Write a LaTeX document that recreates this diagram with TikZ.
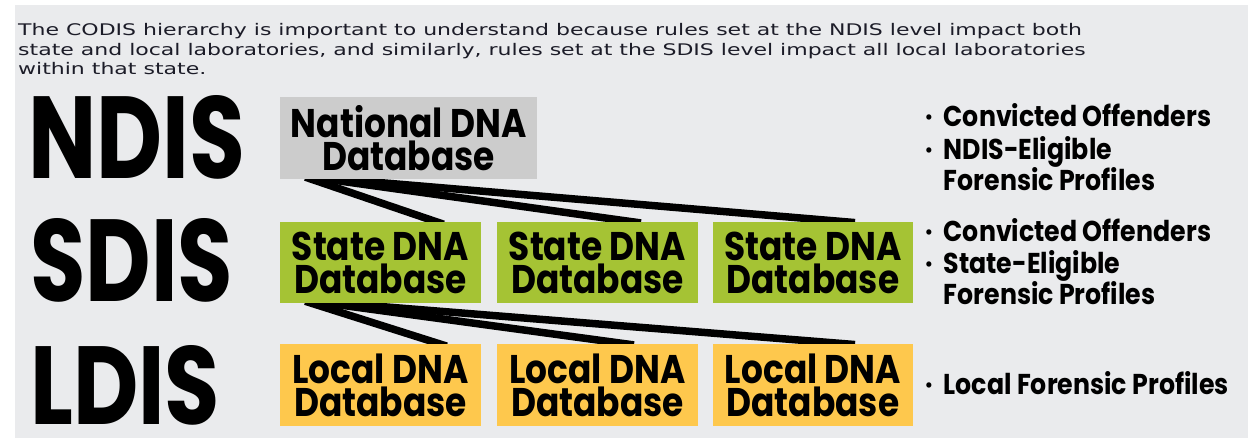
\documentclass[tikz,border=0pt]{standalone}
\usepackage{fontspec}
\usetikzlibrary{backgrounds,calc}
\setmainfont{DejaVu Sans}
\newfontfamily\parafont[FakeStretch=1.375]{DejaVu Sans}
\newfontfamily\condfont[FakeStretch=0.86]{Poppins}
\newfontfamily\tierfont[FakeStretch=0.8]{Poppins}
\newfontfamily\sidefont[FakeStretch=0.88]{Poppins}
\definecolor{bgcol}{HTML}{EAEBED}
\definecolor{natcol}{HTML}{CCCCCC}
\definecolor{statecol}{HTML}{A5C334}
\definecolor{localcol}{HTML}{FEC84D}
\definecolor{txtcol}{HTML}{1C1C28}
\newcommand{\bul}{·\hspace{11pt}}
\tikzset{
  dbbox/.style={minimum width=200.5pt, minimum height=81pt, inner sep=0pt, align=center,
    font=\condfont\bfseries\fontsize{40}{33}\selectfont, anchor=north west},
  para/.style={anchor=base west, inner sep=0pt, font=\parafont\fontsize{16}{19}\selectfont, text=txtcol},
  side/.style={anchor=base west, inner sep=0pt, font=\sidefont\bfseries\fontsize{28.7}{32}\selectfont},
  tier/.style={anchor=south west, inner sep=0pt},
  link/.style={line width=7.5pt, shorten <=-7pt, shorten >=-7pt}
}
\begin{document}
\begin{tikzpicture}[x=1pt,y=-1pt]
\useasboundingbox (0,0) rectangle (1248,438);
% paragraph
\node[para] (p1) at (18,36) {The CODIS hierarchy is important to understand because rules set at the NDIS level impact both};
\node[para] (p2) at (18,56) {state and local laboratories, and similarly, rules set at the SDIS level impact all local laboratories};
\node[para] (p3) at (18,75) {within that state.};
% tier labels
\node[tier] (ndis) at (28,180) {\resizebox{217pt}{83pt}{\tierfont\bfseries NDIS}};
\node[tier] (sdis) at (30,303) {\resizebox{203pt}{83pt}{\tierfont\bfseries SDIS}};
\node[tier] (ldis) at (30,425) {\resizebox{190pt}{79pt}{\tierfont\bfseries LDIS}};
% boxes
\node[dbbox, fill=natcol, minimum width=257pt, minimum height=82pt] (nat) at (280,97) {National DNA\\Database};
\node[dbbox, fill=statecol] (s1) at (280,222) {State DNA\\Database};
\node[dbbox, fill=statecol] (s2) at (497,222) {State DNA\\Database};
\node[dbbox, fill=statecol] (s3) at (712.5,222) {State DNA\\Database};
\node[dbbox, fill=localcol, minimum height=82pt] (l1) at (280,344) {Local DNA\\Database};
\node[dbbox, fill=localcol, minimum height=82pt] (l2) at (497,344) {Local DNA\\Database};
\node[dbbox, fill=localcol, minimum height=82pt] (l3) at (712.5,344) {Local DNA\\Database};
% side texts
\node[side] (n1) at (925,127) {\bul Convicted Offenders};
\node[side] (n2) at (925,160) {\bul NDIS-Eligible};
\node[side] (n3) at (925,191) {\phantom{\bul}Forensic Profiles};
\node[side] (t1) at (925,242) {\bul Convicted Offenders};
\node[side] (t2) at (925,274) {\bul State-Eligible};
\node[side] (t3) at (925,305) {\phantom{\bul}Forensic Profiles};
\node[side] (u1) at (925,394) {\bul Local Forensic Profiles};
\begin{scope}[on background layer]
  \fill[bgcol] (15,5) rectangle (1248,438);
  \draw[link] ($(nat.south west)+(32,0)$) -- ($(s1.north west)+(157,0)$);
  \draw[link] ($(nat.south west)+(48,0)$) -- ($(s2.north west)+(137,0)$);
  \draw[link] ($(nat.south west)+(62,0)$) -- ($(s3.north west)+(135.5,0)$);
  \draw[link] ($(s1.south west)+(32,0)$) -- ($(l1.north west)+(160,0)$);
  \draw[link] ($(s1.south west)+(48,0)$) -- ($(l2.north west)+(130,0)$);
  \draw[link] ($(s1.south west)+(62,0)$) -- ($(l3.north west)+(135.5,0)$);
\end{scope}
\end{tikzpicture}
\end{document}
